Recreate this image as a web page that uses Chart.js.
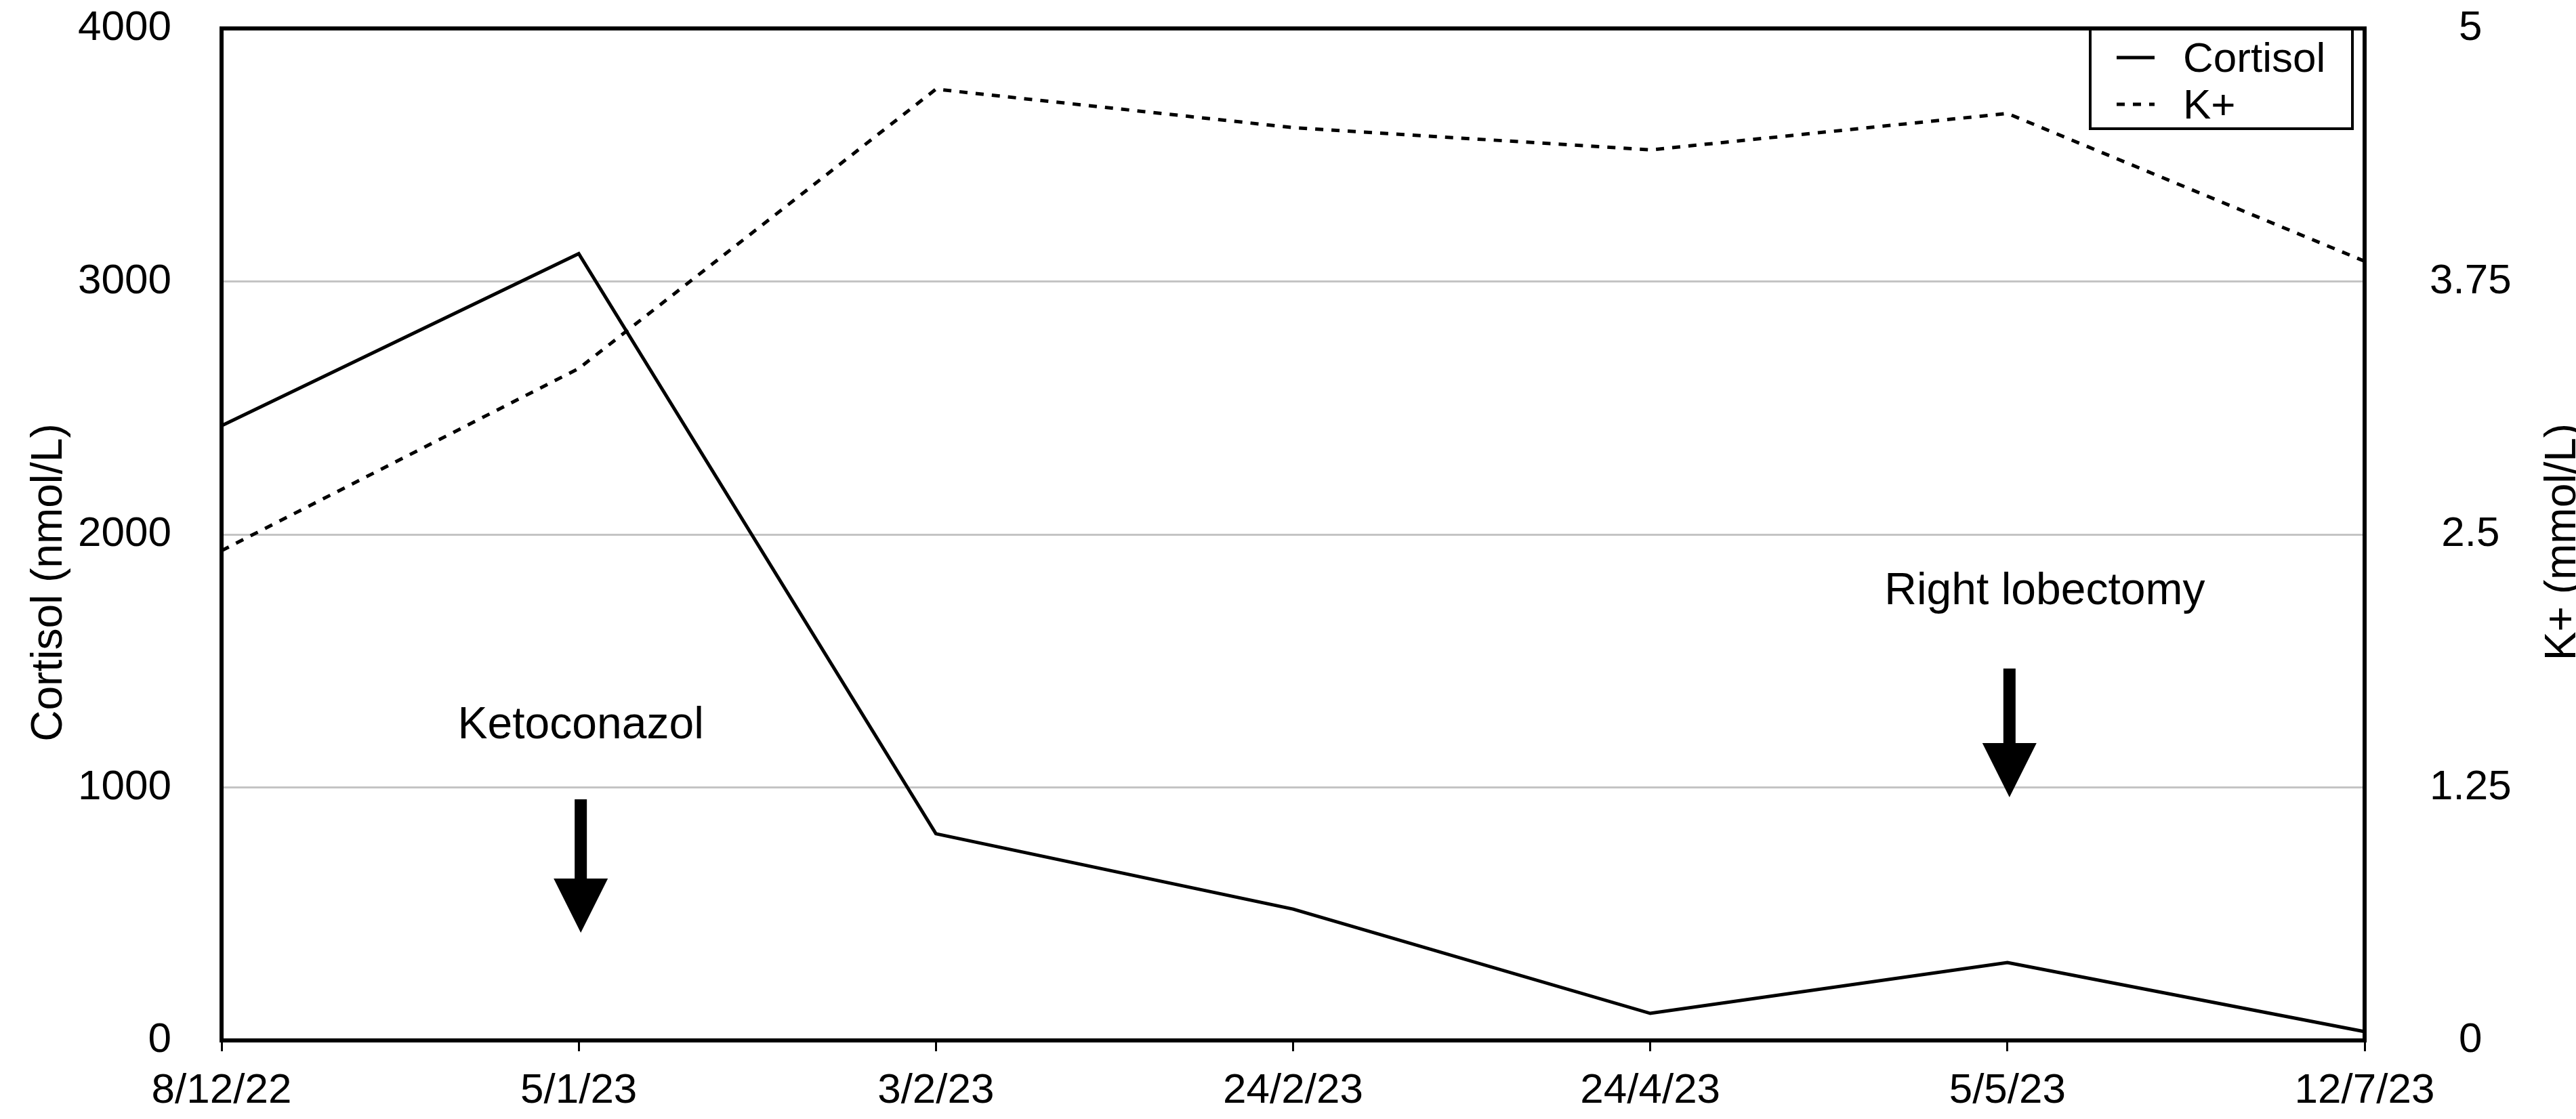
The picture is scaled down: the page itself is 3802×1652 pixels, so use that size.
<!DOCTYPE html>
<html>
<head>
<meta charset="utf-8">
<script src="https://cdn.jsdelivr.net/npm/chart.js@4/dist/chart.umd.min.js"></script>
<style>
  html, body { margin: 0; padding: 0; background: #fff; }
  #wrap { width: 3802px; height: 1652px; }
</style>
</head>
<body>
<div id="wrap"><canvas id="chart" width="3802" height="1652"></canvas></div>
<script>
const dates = ['8/12/22', '5/1/23', '3/2/23', '24/2/23', '24/4/23', '5/5/23', '12/7/23'];
const cortisol = [2430, 3110, 817, 519, 107, 308, 35];
const potassium = [2.42, 3.32, 4.70, 4.51, 4.40, 4.58, 3.85];
const cortisolTicks = [0, 1000, 2000, 3000, 4000];
const potassiumTicks = [0, 1.25, 2.5, 3.75, 5];

// arrows: category index, text, and heights in cortisol units
const eventIdx = [1, 5];
const eventText = ['Ketoconazol', 'Right lobectomy'];
const eventTextY = [1194, 1724];
const eventTop = [953, 1470];
const eventTip = [426, 961];
const eventTextShift = [0, 52];

const FONT = "'Liberation Sans', Helvetica, Arial, sans-serif";

// keep the axes from pushing the plot area around
function noPad(s) {
  s.paddingTop = 0; s.paddingBottom = 0; s.paddingLeft = 0; s.paddingRight = 0;
}

const extras = {
  id: 'extras',
  afterDatasetsDraw(chart) {
    const ctx = chart.ctx;
    const a = chart.chartArea;
    const y = chart.scales.y;
    const x = chart.scales.x;
    ctx.save();

    // plot frame
    ctx.strokeStyle = '#000';
    ctx.lineWidth = 6;
    ctx.strokeRect(a.left, a.top, a.right - a.left, a.bottom - a.top);

    // arrows + labels
    ctx.fillStyle = '#000';
    ctx.font = '66px ' + FONT;
    ctx.textAlign = 'center';
    ctx.textBaseline = 'alphabetic';
    for (let i = 0; i < eventIdx.length; i++) {
      const cx = x.getPixelForValue(eventIdx[i]) + 3;
      const top = y.getPixelForValue(eventTop[i]);
      const tip = y.getPixelForValue(eventTip[i]);
      const headLen = 80, headW = 40, shaft = 9;
      ctx.fillRect(cx - shaft, top, shaft * 2, tip - headLen - top + 1);
      ctx.beginPath();
      ctx.moveTo(cx - headW, tip - headLen);
      ctx.lineTo(cx + headW, tip - headLen);
      ctx.lineTo(cx, tip);
      ctx.closePath();
      ctx.fill();
      ctx.fillText(eventText[i], cx + eventTextShift[i], y.getPixelForValue(eventTextY[i]));
    }

    // legend box
    const lx = a.right - 405, ly = a.top, lw = 387, lh = 148;
    ctx.lineWidth = 4;
    ctx.strokeRect(lx, ly, lw, lh);
    ctx.font = '62px ' + FONT;
    ctx.textAlign = 'left';
    chart.data.datasets.forEach((ds, i) => {
      const base = ly + 64 + i * 69;
      const mid = base - 21;
      ctx.beginPath();
      ctx.lineWidth = ds.borderWidth;
      ctx.setLineDash(ds.borderDash || []);
      ctx.moveTo(lx + 39, mid);
      ctx.lineTo(lx + 95, mid);
      ctx.stroke();
      ctx.setLineDash([]);
      ctx.fillText(ds.label, lx + 137, base);
    });

    // axis titles
    ctx.font = '64px ' + FONT;
    ctx.textAlign = 'center';
    ctx.textBaseline = 'middle';
    ctx.save();
    ctx.translate(73, 860);
    ctx.rotate(-Math.PI / 2);
    ctx.fillText('Cortisol (nmol/L)', 0, 0);
    ctx.restore();
    ctx.save();
    ctx.translate(3783, 800);
    ctx.rotate(-Math.PI / 2);
    ctx.fillText('K+ (mmol/L)', 0, 0);
    ctx.restore();

    ctx.restore();
  }
};

new Chart(document.getElementById('chart'), {
  type: 'line',
  data: {
    labels: dates,
    datasets: [
      {
        label: 'Cortisol',
        data: cortisol,
        yAxisID: 'y',
        borderColor: '#000',
        borderWidth: 5,
        borderJoinStyle: 'miter',
        pointRadius: 0,
        tension: 0,
        fill: false
      },
      {
        label: 'K+',
        data: potassium,
        yAxisID: 'y1',
        borderColor: '#000',
        borderWidth: 5,
        borderDash: [12, 12],
        borderJoinStyle: 'miter',
        pointRadius: 0,
        tension: 0,
        fill: false
      }
    ]
  },
  options: {
    responsive: false,
    devicePixelRatio: 1,
    animation: false,
    layout: { padding: { top: 42, left: 0, right: 0, bottom: 0 } },
    plugins: { legend: { display: false }, tooltip: { enabled: false } },
    scales: {
      x: {
        offset: false,
        border: { display: false },
        grid: { drawOnChartArea: false, drawTicks: true, tickLength: 16, color: '#000', tickWidth: 3 },
        ticks: { color: '#000', font: { family: FONT, size: 62 }, padding: 22, maxRotation: 0, autoSkip: false },
        afterFit(s) { s.height = 116; noPad(s); }
      },
      y: {
        position: 'left',
        min: 0,
        max: 4000,
        afterBuildTicks(s) { s.ticks = cortisolTicks.map(v => ({ value: v })); },
        border: { display: false },
        grid: { color: '#c4c4c4', lineWidth: 3, drawTicks: false },
        ticks: { color: '#000', font: { family: FONT, size: 62 }, padding: 74, callback: v => String(v) },
        afterFit(s) { s.width = 327; noPad(s); }
      },
      y1: {
        position: 'right',
        min: 0,
        max: 5,
        afterBuildTicks(s) { s.ticks = potassiumTicks.map(v => ({ value: v })); },
        border: { display: false },
        grid: { display: false, drawOnChartArea: false, drawTicks: false },
        ticks: { color: '#000', font: { family: FONT, size: 62 }, padding: 96, crossAlign: 'center', callback: v => String(v) },
        afterFit(s) { s.width = 312; noPad(s); }
      }
    }
  },
  plugins: [extras]
});
</script>
</body>
</html>
